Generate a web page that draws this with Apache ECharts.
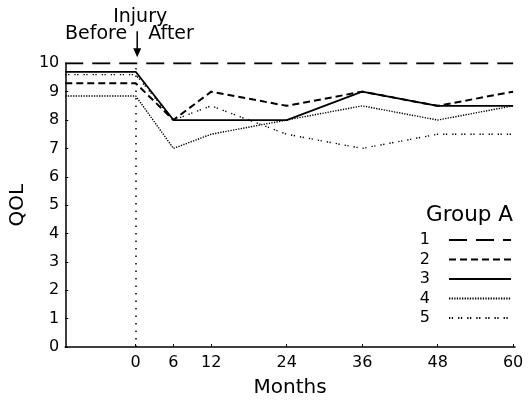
<!DOCTYPE html>
<html>
<head>
<meta charset="utf-8">
<script src="https://cdn.jsdelivr.net/npm/echarts@6/dist/echarts.min.js"></script>
<style>html,body{margin:0;padding:0;background:#fff}#c{width:528px;height:403px}</style>
</head>
<body>
<div id="c"></div>
<script>
// ---- data ----
const months = [-11.2, 0, 6, 12, 24, 36, 48, 60];   // first point = start of "Before" period
const xTickValues = [0, 6, 12, 24, 36, 48, 60];
const groupNames = ['1', '2', '3', '4', '5'];
const group1 = [10, 10, 10, 10, 10, 10, 10, 10];
const group2 = [9.3, 9.3, 8, 9, 8.5, 9, 8.5, 9];
const group3 = [9.7, 9.7, 8, 8, 8, 9, 8.5, 8.5];
const group4 = [8.85, 8.85, 7, 7.5, 8, 8.5, 8, 8.5];
const group5 = [9.6, 9.6, 8, 8.5, 7.5, 7, 7.5, 7.5];
const injuryMonth = 0;

const FONT = 'DejaVu Sans';
const chart = echarts.init(document.getElementById('c'), null, {renderer: 'canvas'});

const styles = [
  {type: [18, 9], width: 2},
  {type: [7, 4], width: 2},
  {type: 'solid', width: 1.8},
  {type: [1.3, 1.3], width: 1.4},
  {type: [1.3, 1.5, 1.3, 5], width: 1.4}
];
const allData = [group1, group2, group3, group4, group5];

const series = allData.map((vals, i) => ({
  name: groupNames[i],
  type: 'line',
  data: months.map((m, j) => [m, vals[j]]),
  showSymbol: false,
  symbol: 'none',
  lineStyle: {color: '#000', width: styles[i].width, type: styles[i].type},
  itemStyle: {color: '#000'},
  z: 3,
  animation: false
}));
series[0].markLine = {
  silent: true,
  symbol: 'none',
  label: {show: false},
  lineStyle: {color: '#000', type: [1.5, 6], width: 1.5},
  data: [[{coord: [injuryMonth, 0]}, {coord: [injuryMonth, 10]}]],
  animation: false
};

const option = {
  backgroundColor: '#fff',
  animation: false,
  grid: {left: 59.3, right: 13, top: 63.3, bottom: 53},
  title: {
    text: 'Group A', left: 426, top: 204, padding: 0,
    textStyle: {fontFamily: FONT, fontSize: 21.5, fontWeight: 'normal', color: '#000'}
  },
  legend: {
    orient: 'vertical', right: 16, top: 232, align: 'right', padding: 0,
    itemWidth: 62, itemHeight: 16, itemGap: 3.5,
    itemStyle: {opacity: 0},
    textStyle: {fontFamily: FONT, fontSize: 16, color: '#000', padding: [0, 14, 0, 0], lineHeight: 16},
    data: groupNames,
    selectedMode: false
  },
  xAxis: {
    type: 'value', min: -11.2, max: 60.3,
    name: 'Months', nameLocation: 'middle', nameGap: 31,
    nameTextStyle: {fontFamily: FONT, fontSize: 20, color: '#000'},
    axisLine: {show: true, onZero: false, lineStyle: {color: '#000', width: 1.5}},
    axisTick: {show: true, inside: true, length: 3, customValues: xTickValues, lineStyle: {color: '#000'}},
    axisLabel: {customValues: xTickValues, fontFamily: FONT, fontSize: 16, color: '#000', margin: 8},
    splitLine: {show: false}
  },
  yAxis: {
    type: 'value', min: 0, max: 10, interval: 1,
    name: 'QOL', nameLocation: 'middle', nameGap: 30, nameRotate: 90,
    nameTextStyle: {fontFamily: FONT, fontSize: 20, color: '#000'},
    axisLine: {show: true, onZero: false, lineStyle: {color: '#000', width: 1.5}},
    axisTick: {show: true, inside: true, length: 3, lineStyle: {color: '#000'}},
    axisLabel: {fontFamily: FONT, fontSize: 16, color: '#000', margin: 6},
    splitLine: {show: false}
  },
  series: series
};
chart.setOption(option);

const px = chart.convertToPixel({xAxisIndex: 0}, injuryMonth) + 1.5;
const topY = chart.convertToPixel({yAxisIndex: 0}, 10);
chart.setOption({
  graphic: [
    {type: 'line', shape: {x1: px, y1: topY - 32, x2: px, y2: topY - 12}, style: {stroke: '#000', lineWidth: 1.5}},
    {type: 'polygon', shape: {points: [[px - 4, topY - 15], [px + 4, topY - 15], [px, topY - 6]]}, style: {fill: '#000'}},
    {type: 'text', x: px + 3, y: topY - 46.5, style: {text: 'Injury', font: '19px "DejaVu Sans"', fill: '#000', align: 'center', verticalAlign: 'middle'}},
    {type: 'text', x: px - 10, y: topY - 29, style: {text: 'Before', font: '19px "DejaVu Sans"', fill: '#000', align: 'right', verticalAlign: 'middle'}},
    {type: 'text', x: px + 11, y: topY - 29, style: {text: 'After', font: '19px "DejaVu Sans"', fill: '#000', align: 'left', verticalAlign: 'middle'}}
  ]
});
</script>
</body>
</html>
